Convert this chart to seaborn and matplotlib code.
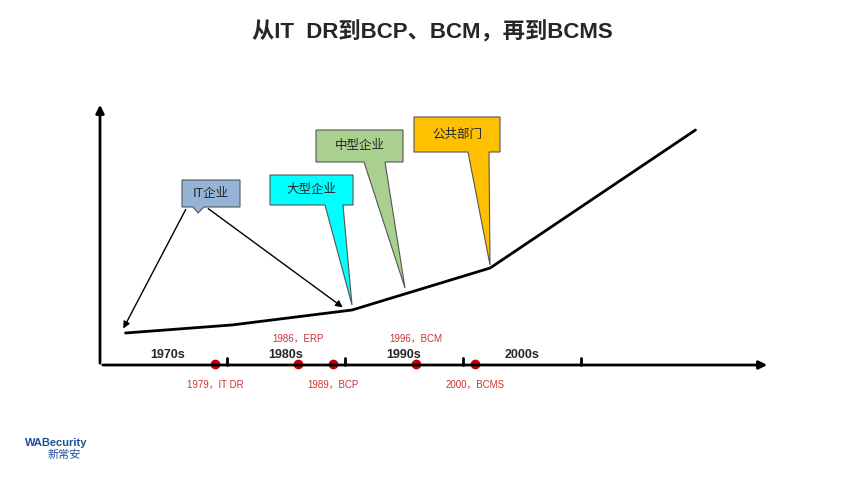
import matplotlib
matplotlib.use("Agg")
import matplotlib.pyplot as plt
import seaborn as sns
from matplotlib.patches import Polygon

sns.set_theme(style="white")
plt.rcParams['font.family'] = ['Liberation Sans', 'Noto Sans CJK SC', 'DejaVu Sans']

title = "从IT  DR到BCP、BCM，再到BCMS"
decades = ["1970s", "1980s", "1990s", "2000s"]
decade_pos = [1975, 1985, 1995, 2005]
tick_years = [1980, 1990, 2000, 2010]
event_years = [1979, 1986, 1989, 1996, 2001]
event_labels = ["1979，IT DR", "1986，ERP", "1989，BCP", "1996，BCM", "2000，BCMS"]
event_above = [False, True, False, True, False]
curve_x = [1971.4, 1980.4, 1990.6, 2002.3, 2019.7]
curve_y = [153, 161, 176, 218, 356]
callouts = ["IT企业", "大型企业", "中型企业", "公共部门"]
colors = ["#95B3D7", "#00FFFF", "#A9D08E", "#FFC000"]

PX = 11.8
X0 = 1970 - 109 / PX
def X(p): return X0 + p / PX
def Y(p): return 486 - p

fig = plt.figure(figsize=(8.65, 4.86), dpi=100)
ax = fig.add_axes([0, 0, 1, 1])
ax.set_xlim(X(0), X(865)); ax.set_ylim(0, 486); ax.axis("off")

fig.text(0.5, 1 - 32 / 486, title, ha="center", va="center", fontsize=16, fontweight="bold")

ax.annotate("", xy=(X(770), Y(365)), xytext=(X(100), Y(365)),
            arrowprops=dict(arrowstyle="-|>", lw=2, color="black", mutation_scale=12))
ax.annotate("", xy=(X(100), Y(102)), xytext=(X(100), Y(366)),
            arrowprops=dict(arrowstyle="-|>", lw=2, color="black", mutation_scale=12))
for t in tick_years:
    ax.plot([t, t], [Y(365), Y(358)], color="black", lw=2)
for d, p in zip(decades, decade_pos):
    ax.text(p, Y(355), d, ha="center", va="center", fontsize=9, fontweight="bold")

ax.plot(curve_x, curve_y, color="black", lw=2)

for yr, lab, ab in zip(event_years, event_labels, event_above):
    ax.plot(yr, Y(364), "o", color="#C00000", ms=6)
    ax.text(yr, Y(339) if ab else Y(385), lab, ha="center", va="center",
            fontsize=7, color="#CC3333")

def callout(box, tip, base, text, color):
    x1, y1, x2, y2 = box
    b1, b2 = base
    pts = [(X(x1), Y(y1)), (X(x2), Y(y1)), (X(x2), Y(y2)), (X(b2), Y(y2)),
           (X(tip[0]), Y(tip[1])), (X(b1), Y(y2)), (X(x1), Y(y2))]
    ax.add_patch(Polygon(pts, closed=True, facecolor=color, edgecolor="#555555", lw=0.8))
    ax.text(X((x1 + x2) / 2), Y((y1 + y2) / 2), text, ha="center", va="center",
            fontsize=9, family=['Noto Sans CJK SC'])

callout((182, 180, 240, 207), (198, 213), (193, 204), callouts[0], colors[0])
ax.annotate("", xy=(X(122), Y(331)), xytext=(X(187), Y(207)),
            arrowprops=dict(arrowstyle="-|>", lw=1, color="black", mutation_scale=10))
ax.annotate("", xy=(X(345), Y(309)), xytext=(X(206), Y(207)),
            arrowprops=dict(arrowstyle="-|>", lw=1, color="black", mutation_scale=10))
callout((270, 175, 353, 205), (352, 305), (325, 343), callouts[1], colors[1])
callout((316, 130, 403, 162), (405, 288), (364, 385), callouts[2], colors[2])
callout((414, 117, 500, 152), (490, 265), (468, 489), callouts[3], colors[3])

ax.text(X(25), Y(443), "WABecurity", fontsize=8, fontweight="bold", color="#1F4E99", va="center")
ax.text(X(48), Y(455), "新常安", fontsize=8, color="#1F4E99", va="center")

fig.savefig("out.png", dpi=100)
